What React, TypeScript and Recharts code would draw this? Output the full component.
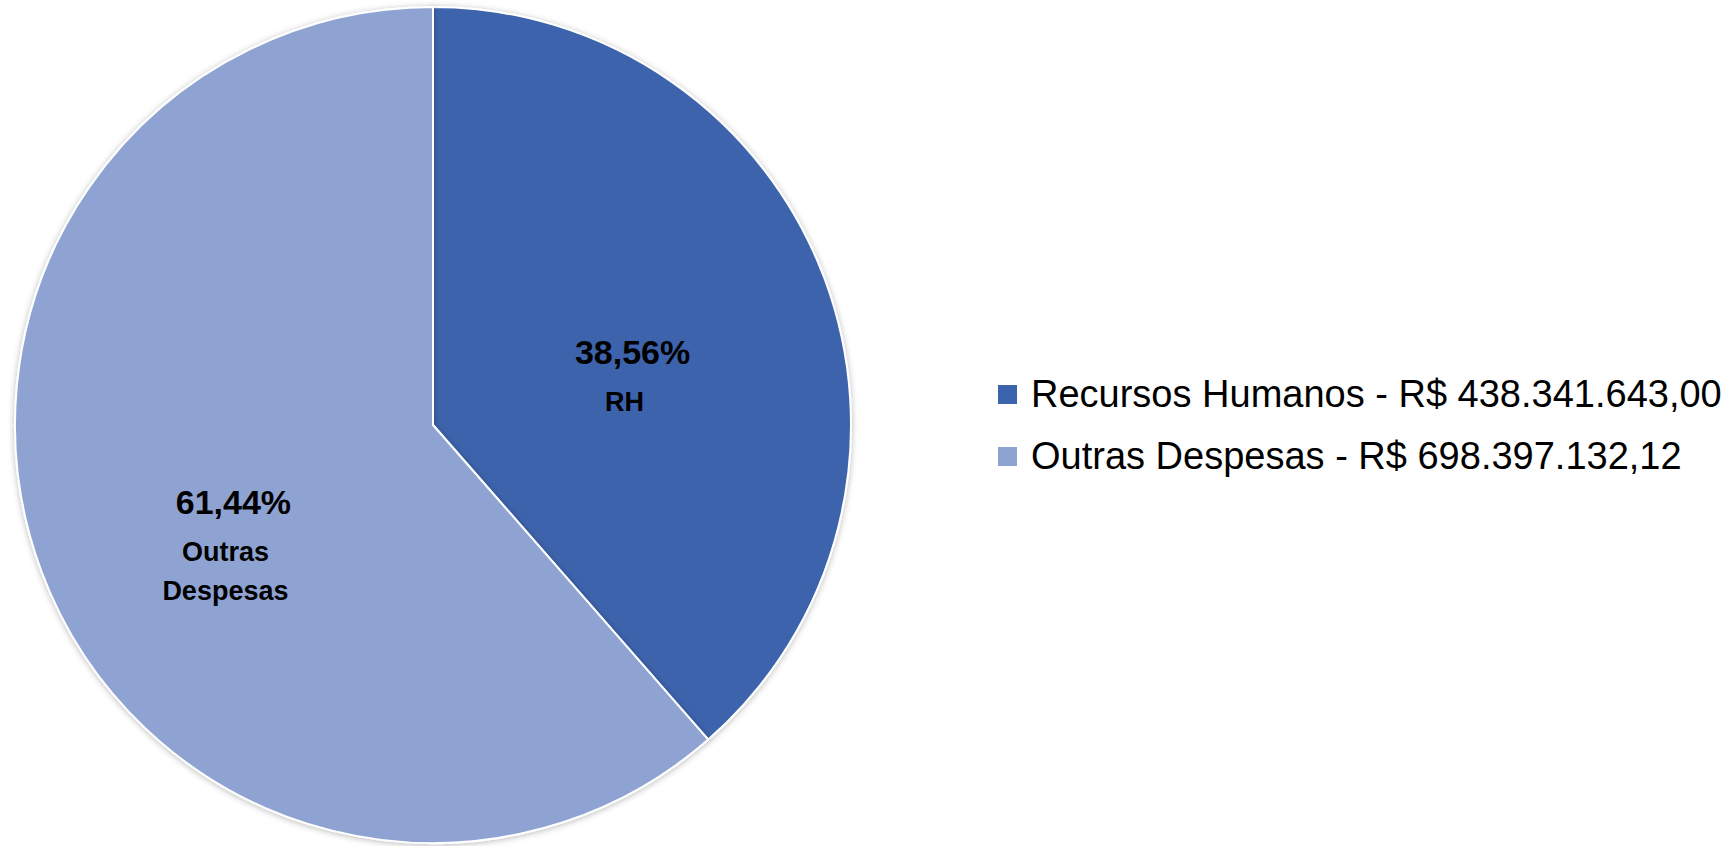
import { PieChart, Pie, Cell, Legend } from "recharts";

const categories = ["Recursos Humanos", "Outras Despesas"];
const shortLabels = [["RH"], ["Outras", "Despesas"]];
const amounts = [438341643.0, 698397132.12];
const colors = ["#3C64AC", "#8FA3D3"];

const RADIAN = Math.PI / 180;
const FONT = "'Liberation Sans', Arial, sans-serif";

function formatBRL(v: number): string {
  const [int, dec] = v.toFixed(2).split(".");
  const grouped = int.replace(/\B(?=(\d{3})+(?!\d))/g, ".");
  return `${grouped},${dec}`;
}

const data = categories.map((name, i) => ({
  name,
  value: amounts[i],
  short: shortLabels[i],
}));

function renderLabel(props: any) {
  const { cx, cy, midAngle, outerRadius, percent, index } = props;
  const r = outerRadius * 0.51;
  const x = cx + r * Math.cos(-midAngle * RADIAN);
  const y = cy + r * Math.sin(-midAngle * RADIAN) + 14;
  const pct = (percent * 100).toFixed(2).replace(".", ",") + "%";
  const lines: string[] = data[index].short;
  return (
    <g>
      <text x={x} y={y} textAnchor="middle" fontFamily={FONT} fontWeight={700} fontSize={34} fill="#000">
        {pct}
      </text>
      {lines.map((t, i) => (
        <text
          key={t}
          x={x - 8}
          y={y + 47 + i * 39}
          textAnchor="middle"
          fontFamily={FONT}
          fontWeight={700}
          fontSize={27}
          fill="#000"
        >
          {t}
        </text>
      ))}
    </g>
  );
}

function LegendBox() {
  return (
    <div style={{ fontFamily: FONT }}>
      {data.map((d, i) => (
        <div key={d.name} style={{ display: "flex", alignItems: "center", height: 62 }}>
          <div style={{ width: 19, height: 19, background: colors[i], marginRight: 14 }} />
          <span style={{ fontSize: 38, color: "#000", whiteSpace: "nowrap" }}>
            {d.name} - R$ {formatBRL(d.value)}
          </span>
        </div>
      ))}
    </div>
  );
}

export default function App() {
  return (
    <div style={{ position: "fixed", left: 0, top: 0, width: 1729, height: 846, background: "#fff" }}>
      <PieChart width={1729} height={846} margin={{ top: 0, right: 0, bottom: 0, left: 0 }}>
        <defs>
          <filter id="pieShadow" x="-10%" y="-10%" width="120%" height="120%">
            <feDropShadow dx="0" dy="1" stdDeviation="3" floodColor="#000" floodOpacity="0.28" />
          </filter>
        </defs>
        <Pie
          data={data}
          dataKey="value"
          nameKey="name"
          cx={433}
          cy={425}
          outerRadius={418}
          startAngle={90}
          endAngle={-270}
          stroke="#fff"
          strokeWidth={2}
          label={renderLabel}
          labelLine={false}
          isAnimationActive={false}
          style={{ filter: "url(#pieShadow)" }}
        >
          {data.map((d, i) => (
            <Cell key={d.name} fill={colors[i]} />
          ))}
        </Pie>
        <Legend
          layout="vertical"
          content={() => <LegendBox />}
          wrapperStyle={{ left: 998, top: 363, width: 731, bottom: "auto" }}
        />
      </PieChart>
    </div>
  );
}
